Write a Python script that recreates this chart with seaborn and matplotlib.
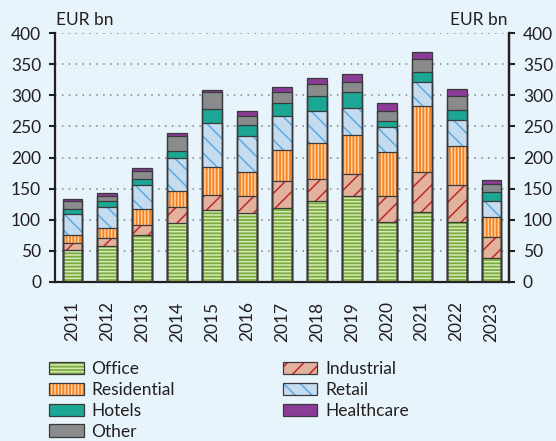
import matplotlib
matplotlib.use("Agg")
import matplotlib.pyplot as plt
import seaborn as sns
import numpy as np
import pandas as pd
from matplotlib.patches import Patch
from matplotlib.legend_handler import HandlerTuple

years = ["2011", "2012", "2013", "2014", "2015", "2016", "2017",
         "2018", "2019", "2020", "2021", "2022", "2023"]
office      = [52, 58.5, 75, 95.5, 115, 110.5, 118.5, 130.5, 138, 96, 112, 96, 38]
industrial  = [10, 11.5, 16, 25.5, 24.5, 27.5, 44.5, 35, 36, 41.5, 65, 60, 34]
residential = [13, 16.5, 25.5, 25.5, 44.5, 39, 49, 57, 62.5, 71, 106.5, 63, 33]
retail      = [35, 34.5, 39, 52, 72, 58, 55, 53, 42.5, 40.5, 37.5, 42, 25]
hotels      = [8, 9, 9.5, 12.5, 21.5, 17, 21, 23.5, 25.5, 10, 16, 15.5, 14]
other       = [12, 8, 13, 24, 27.5, 15, 18, 18.5, 17.5, 15, 21, 23, 13]
healthcare  = [3, 5, 5, 4, 3.5, 8, 8, 9.5, 11.5, 14, 12, 10.5, 7]

series = ["Office", "Industrial", "Residential", "Retail", "Hotels", "Other", "Healthcare"]
values = [office, industrial, residential, retail, hotels, other, healthcare]
face = {"Office": "#7aab3f", "Industrial": "#e2b29d", "Residential": "#f5821f",
        "Retail": "#c5dbef", "Hotels": "#1ba695", "Other": "#8a8b8d", "Healthcare": "#8b3c96"}
hcol = {"Office": "#d7eab6", "Industrial": "#c1272d", "Residential": "#ffd3a6",
        "Retail": "#5babdf", "Hotels": "#1ba695", "Other": "#8a8b8d", "Healthcare": "#8b3c96"}
hatch = {"Office": "-----", "Industrial": "//", "Residential": "|||||",
         "Retail": "\\\\", "Hotels": "", "Other": "", "Healthcare": ""}

bg = "#e8f4fb"
dark = "#231f20"
sns.set_theme(style="white")
plt.rcParams["font.family"] = ["Lato", "DejaVu Sans"]
plt.rcParams["hatch.linewidth"] = 1.1

df = pd.DataFrame({"year": years})
cum = np.zeros(len(years))
for s, v in zip(series, values):
    cum = cum + np.array(v)
    df[s] = cum.copy()

fig = plt.figure(figsize=(5.56, 4.41), dpi=100, facecolor=bg)
ax = fig.add_axes([55/556, 1-282/441, (509-55)/556, (282-33)/441])
ax.set_facecolor(bg)

# fills (tallest cumulative first)
for s in reversed(series):
    sns.barplot(data=df, x="year", y=s, order=years, ax=ax, width=0.57,
                saturation=1, errorbar=None, facecolor=face[s],
                edgecolor=hcol[s], linewidth=0, hatch=hatch[s] or None, zorder=2)
# outlines
for s in reversed(series):
    sns.barplot(data=df, x="year", y=s, order=years, ax=ax, width=0.57,
                saturation=1, errorbar=None, facecolor="none",
                edgecolor="#3a3a3a", linewidth=0.9, zorder=3)

ax.set_xlabel("")
ax.set_ylabel("")
ax.set_xlim(-0.5, len(years) - 0.5)
ax.set_ylim(0, 400)
yt = list(range(0, 401, 50))
ax.set_yticks(yt)
ax.set_yticklabels([str(t) for t in yt])
for t in yt[1:]:
    ax.axhline(t, color="#808080", lw=1.1, ls=(0, (1, 3.5)), zorder=1)

ax.set_xticks(range(len(years)))
ax.set_xticklabels(years, rotation=90)
ax.set_xticks(np.arange(0.5, len(years) - 1, 1.0), minor=True)
ax.tick_params(axis="x", which="major", length=0, pad=14, labelsize=12.5, labelcolor=dark)
ax.tick_params(axis="x", which="minor", length=4, width=1.5, color=dark, direction="out")
ax.tick_params(axis="y", length=4, width=1.5, color=dark, pad=6, labelsize=12.5,
               labelcolor=dark, direction="out", left=True)

for sp in ["top"]:
    ax.spines[sp].set_visible(False)
for sp in ["left", "bottom", "right"]:
    ax.spines[sp].set_visible(True)
    ax.spines[sp].set_color(dark)
    ax.spines[sp].set_linewidth(1.6)

ax2 = ax.twinx()
ax2.set_ylim(0, 400)
ax2.set_yticks(yt)
ax2.set_yticklabels([str(t) for t in yt])
ax2.tick_params(axis="y", length=4, width=1.5, color=dark, pad=6, labelsize=12.5,
                labelcolor=dark, direction="out", right=True)
for sp in ["top", "left", "bottom"]:
    ax2.spines[sp].set_visible(False)
ax2.spines["right"].set_color(dark)
ax2.spines["right"].set_linewidth(1.6)

fig.text(56/556, 1-25/441, "EUR bn", ha="left", va="baseline", fontsize=12.5, color=dark)
fig.text(508/556, 1-25/441, "EUR bn", ha="right", va="baseline", fontsize=12.5, color=dark)

order = ["Office", "Residential", "Hotels", "Other", "Industrial", "Retail", "Healthcare"]
handles = []
for s in order:
    h1 = Patch(facecolor=face[s], edgecolor=hcol[s], linewidth=0, hatch=hatch[s] or None)
    h2 = Patch(facecolor="none", edgecolor="#3a3a3a", linewidth=0.9)
    handles.append((h1, h2))
fig.legend(handles, order, handler_map={tuple: HandlerTuple(ndivide=1, pad=0)},
           ncol=2, loc="upper left", bbox_to_anchor=(49/556, 1-361/441),
           frameon=False, fontsize=12.5, handlelength=2.0, handleheight=0.7,
           handletextpad=0.45, labelspacing=0.28, columnspacing=6.2,
           borderpad=0, borderaxespad=0, labelcolor=dark)

fig.savefig("out.png", dpi=100, facecolor=bg)
